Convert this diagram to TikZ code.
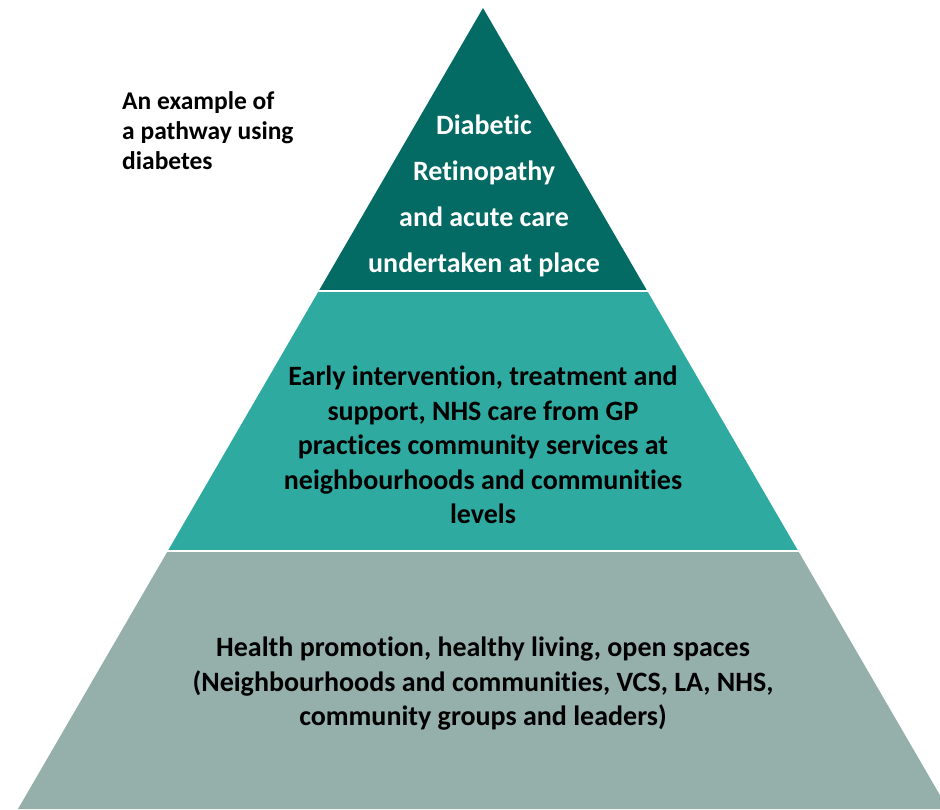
\documentclass[tikz,border=0pt]{standalone}
\usepackage{fontspec}
\setmainfont[Ligatures=NoCommon]{Carlito}
\definecolor{topc}{RGB}{3,107,99}
\definecolor{midc}{RGB}{46,170,160}
\definecolor{botc}{RGB}{149,175,170}
\begin{document}
\begin{tikzpicture}[x=1pt,y=-1pt,
  lbl/.style={font=\bfseries, align=center, inner sep=0pt}]
\useasboundingbox (0,0) rectangle (940,809);
\coordinate (A) at (483,8);
\coordinate (L) at (18,809);
\coordinate (R) at (948,809);
\begin{scope}
  \clip (0,0) rectangle (940,289);
  \fill[topc] (A) -- (L) -- (R) -- cycle;
\end{scope}
\begin{scope}
  \clip (0,292) rectangle (940,549);
  \fill[midc] (A) -- (L) -- (R) -- cycle;
\end{scope}
\begin{scope}
  \clip (0,552) rectangle (940,809);
  \fill[botc] (A) -- (L) -- (R) -- cycle;
\end{scope}
\node[lbl, text=white, font=\bfseries\fontsize{28}{46}\selectfont] (toptext) at (484,196)
  {Diabetic\\Retinopathy\\and acute care\\undertaken at place};
\node[lbl, text=black, font=\bfseries\fontsize{28}{34.5}\selectfont] (midtext) at (483,445)
  {Early intervention, treatment and\\support, NHS care from GP\\practices community services at\\neighbourhoods and communities\\levels};
\node[lbl, text=black, font=\bfseries\fontsize{28}{34.5}\selectfont] (bottext) at (483,684)
  {Health promotion, healthy living, open spaces\\(Neighbourhoods and communities, VCS, LA, NHS,\\community groups and leaders)};
\node[lbl, text=black, align=left, anchor=west, font=\bfseries\fontsize{25.5}{30}\selectfont] (side) at (122,131)
  {An example of\\a pathway using\\diabetes};
\end{tikzpicture}
\end{document}
